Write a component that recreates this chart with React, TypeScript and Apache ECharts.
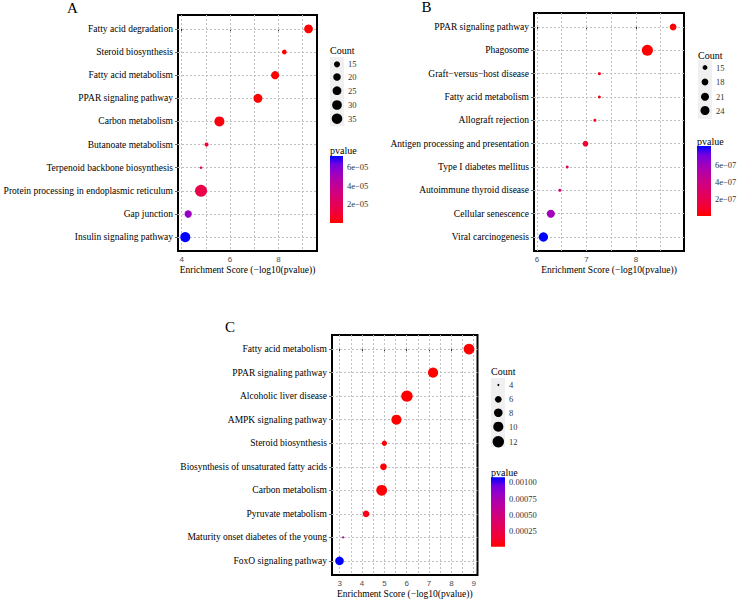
import React, { useEffect, useRef } from "react";
import * as echarts from "echarts";

// ---------- DATA ----------
const A_terms = [
  "Fatty acid degradation",
  "Steroid biosynthesis",
  "Fatty acid metabolism",
  "PPAR signaling pathway",
  "Carbon metabolism",
  "Butanoate metabolism",
  "Terpenoid backbone biosynthesis",
  "Protein processing in endoplasmic reticulum",
  "Gap junction",
  "Insulin signaling pathway",
];
const A_score = [9.24, 8.24, 7.86, 7.15, 5.56, 5.03, 4.8, 4.8, 4.27, 4.15];
const A_count = [25, 12, 22, 26, 32, 11, 10, 45, 19, 32];
const A_pvalue = [5.8e-10, 5.8e-9, 1.4e-8, 7.1e-8, 2.8e-6, 9.3e-6, 1.6e-5, 1.6e-5, 5.4e-5, 7.2e-5];
const A_xLabels = [4, 6, 8];
const A_xGrid = [4, 5, 6, 7, 8, 9];
const A_countBreaks = [15, 20, 25, 30, 35];
const A_pBreaks = [6e-5, 4e-5, 2e-5];
const A_pBreakLabels = ["6e\u221205", "4e\u221205", "2e\u221205"];

const B_terms = [
  "PPAR signaling pathway",
  "Phagosome",
  "Graft\u2212versus\u2212host disease",
  "Fatty acid metabolism",
  "Allograft rejection",
  "Antigen processing and presentation",
  "Type I diabetes mellitus",
  "Autoimmune thyroid disease",
  "Cellular senescence",
  "Viral carcinogenesis",
];
const B_score = [8.75, 8.23, 7.26, 7.26, 7.17, 6.98, 6.61, 6.46, 6.28, 6.13];
const B_count = [18, 32, 14, 14, 14, 16, 14, 14, 21, 25];
const B_pvalue = [1.8e-9, 5.9e-9, 5.5e-8, 5.5e-8, 6.8e-8, 1.05e-7, 2.45e-7, 3.5e-7, 5.8e-7, 8.2e-7];
const B_xLabels = [6, 7, 8];
const B_xGrid = [6, 6.5, 7, 7.5, 8, 8.5];
const B_countBreaks = [15, 18, 21, 24];
const B_pBreaks = [6e-7, 4e-7, 2e-7];
const B_pBreakLabels = ["6e\u221207", "4e\u221207", "2e\u221207"];

const C_terms = [
  "Fatty acid metabolism",
  "PPAR signaling pathway",
  "Alcoholic liver disease",
  "AMPK signaling pathway",
  "Steroid biosynthesis",
  "Biosynthesis of unsaturated fatty acids",
  "Carbon metabolism",
  "Pyruvate metabolism",
  "Maturity onset diabetes of the young",
  "FoxO signaling pathway",
];
const C_score = [8.79, 7.18, 6.01, 5.54, 5.0, 4.96, 4.88, 4.18, 3.15, 2.99];
const C_count = [11, 10, 12, 10, 5, 6, 11, 6, 4, 8];
const C_pvalue = [1.6e-9, 6.6e-8, 9.8e-7, 2.9e-6, 1.0e-5, 1.1e-5, 1.3e-5, 6.6e-5, 7.1e-4, 1.08e-3];
const C_xLabels = [3, 4, 5, 6, 7, 8, 9];
const C_xGrid = [3, 3.5, 4, 4.5, 5, 5.5, 6, 6.5, 7, 7.5, 8, 8.5, 9];
const C_countBreaks = [4, 6, 8, 10, 12];
const C_pBreaks = [0.001, 0.00075, 0.0005, 0.00025];
const C_pBreakLabels = ["0.00100", "0.00075", "0.00050", "0.00025"];

const X_NAME = "Enrichment Score (\u2212log10(pvalue))";

// ---------- STYLE ----------
const SERIF = "'Liberation Serif', 'Times New Roman', serif";
const SANS = "'Liberation Sans', Arial, sans-serif";
const STOPS = ["#FF0000", "#F40031", "#E80050", "#DA006C", "#CA0089", "#B500A5", "#9A00C3", "#7300E0", "#0000FF"];

type Panel = {
  letter: string;
  letterPos: [number, number];
  terms: string[];
  score: number[];
  count: number[];
  pvalue: number[];
  xLabels: number[];
  xGrid: number[];
  xMin: number;
  xMax: number;
  grid: { left: number; top: number; width: number; height: number };
  size: (c: number) => number;
  countBreaks: number[];
  countTitle: [number, number];
  countRect: [number, number, number, number];
  countDotX: number;
  countDotY: number[];
  countLabelX: number;
  pBreaks: number[];
  pBreakLabels: string[];
  pTitle: [number, number];
  pBar: [number, number, number, number];
  pLabelX: number;
};

const panels: Panel[] = [
  {
    letter: "A",
    letterPos: [67, 8],
    terms: A_terms,
    score: A_score,
    count: A_count,
    pvalue: A_pvalue,
    xLabels: A_xLabels,
    xGrid: A_xGrid,
    xMin: 3.85,
    xMax: 9.59,
    grid: { left: 178, top: 15, width: 139, height: 236 },
    size: (c) => 2.5 + 1.61 * Math.sqrt(Math.max(c - 10, 0)),
    countBreaks: A_countBreaks,
    countTitle: [330, 50],
    countRect: [330, 57, 14, 69],
    countDotX: 337,
    countDotY: [64.3, 77, 90.7, 105, 118.7],
    countLabelX: 348,
    pBreaks: A_pBreaks,
    pBreakLabels: A_pBreakLabels,
    pTitle: [330, 150],
    pBar: [330, 156, 13, 67],
    pLabelX: 347,
  },
  {
    letter: "B",
    letterPos: [421.5, 7],
    terms: B_terms,
    score: B_score,
    count: B_count,
    pvalue: B_pvalue,
    xLabels: B_xLabels,
    xGrid: B_xGrid,
    xMin: 5.94,
    xMax: 8.97,
    grid: { left: 534, top: 13, width: 150, height: 238 },
    size: (c) => 3 + 1.9 * Math.sqrt(Math.max(c - 14, 0)),
    countBreaks: B_countBreaks,
    countTitle: [698, 55],
    countRect: [698, 60, 14, 59],
    countDotX: 705,
    countDotY: [67.5, 82, 96.7, 110.5],
    countLabelX: 716,
    pBreaks: B_pBreaks,
    pBreakLabels: B_pBreakLabels,
    pTitle: [697, 141.5],
    pBar: [697, 146, 14, 70],
    pLabelX: 715,
  },
  {
    letter: "C",
    letterPos: [225, 327],
    terms: C_terms,
    score: C_score,
    count: C_count,
    pvalue: C_pvalue,
    xLabels: C_xLabels,
    xGrid: C_xGrid,
    xMin: 2.655,
    xMax: 9.17,
    grid: { left: 332, top: 335, width: 145.5, height: 240 },
    size: (c) => 2 + 3.32 * Math.sqrt(Math.max(c - 4, 0)),
    countBreaks: C_countBreaks,
    countTitle: [491, 371],
    countRect: [491, 378, 14, 69],
    countDotX: 498.3,
    countDotY: [385, 399.3, 412.7, 426.7, 441.7],
    countLabelX: 509,
    pBreaks: C_pBreaks,
    pBreakLabels: C_pBreakLabels,
    pTitle: [491, 472.5],
    pBar: [491, 477.3, 14, 69.4],
    pLabelX: 509,
  },
];

function buildOption() {
  const grids: any[] = [];
  const xAxes: any[] = [];
  const yAxes: any[] = [];
  const series: any[] = [];
  const visualMaps: any[] = [];
  const graphics: any[] = [];

  panels.forEach((p, k) => {
    const n = p.terms.length;
    const idx = p.terms.map((_, i) => i);
    grids.push({
      ...p.grid,
      show: true,
      borderColor: "#000",
      borderWidth: 2,
      backgroundColor: "#fff",
      containLabel: false,
    });
    xAxes.push({
      type: "value",
      gridIndex: k,
      min: p.xMin,
      max: p.xMax,
      splitLine: { show: false },
      axisLine: { show: false },
      axisTick: { show: true, customValues: p.xLabels, length: 3, lineStyle: { color: "#333", width: 1 } },
      axisLabel: {
        customValues: p.xLabels,
        fontFamily: SANS,
        fontSize: 8,
        color: "#4D4D4D",
        margin: 4,
        formatter: (v: number) => String(v),
      },
      name: X_NAME,
      nameLocation: "middle",
      nameGap: 14,
      nameTextStyle: { fontFamily: SERIF, fontSize: 9.5, color: "#000" },
    });
    yAxes.push({
      type: "value",
      gridIndex: k,
      min: -0.6,
      max: n - 1 + 0.6,
      inverse: true,
      splitLine: { show: false },
      axisLine: { show: false },
      axisTick: { show: true, customValues: idx, length: 3, lineStyle: { color: "#666", width: 1 } },
      axisLabel: {
        customValues: idx,
        fontFamily: SERIF,
        fontSize: 9.5,
        color: "#000",
        margin: 5,
        formatter: (v: number) => p.terms[Math.round(v)] ?? "",
      },
    });
    // grid lines
    series.push({
      type: "scatter",
      xAxisIndex: k,
      yAxisIndex: k,
      data: [],
      z: 1,
      silent: true,
      markLine: {
        z: 1,
        silent: true,
        symbol: ["none", "none"],
        label: { show: false },
        lineStyle: { type: [2, 2], color: "#BFBFBF", width: 1 },
        data: [...p.xGrid.map((v) => ({ xAxis: v })), ...idx.map((v) => ({ yAxis: v }))],
      },
    });
    // points
    series.push({
      type: "scatter",
      xAxisIndex: k,
      yAxisIndex: k,
      z: 6,
      data: p.terms.map((t, i) => [p.score[i], i, p.count[i], p.pvalue[i], t]),
      symbolSize: (val: any) => p.size(val[2]),
      itemStyle: { opacity: 1 },
    });
    const pMin = Math.min(...p.pvalue);
    const pMax = Math.max(...p.pvalue);
    visualMaps.push({
      type: "continuous",
      show: false,
      seriesIndex: 2 * k + 1,
      dimension: 3,
      min: pMin,
      max: pMax,
      inRange: { color: STOPS },
    });

    // panel letter
    graphics.push({
      type: "text",
      x: p.letterPos[0],
      y: p.letterPos[1],
      style: { text: p.letter, font: `15px ${SERIF}`, fill: "#000", align: "left", verticalAlign: "middle" },
    });
    // count legend
    graphics.push({
      type: "text",
      x: p.countTitle[0],
      y: p.countTitle[1],
      style: { text: "Count", font: `10px ${SERIF}`, fill: "#000", align: "left", verticalAlign: "middle" },
    });
    graphics.push({
      type: "rect",
      shape: { x: p.countRect[0], y: p.countRect[1], width: p.countRect[2], height: p.countRect[3] },
      style: { fill: "#F0F0F0" },
    });
    p.countBreaks.forEach((c, j) => {
      graphics.push({
        type: "circle",
        shape: { cx: p.countDotX, cy: p.countDotY[j], r: p.size(c) / 2 },
        style: { fill: "#000" },
      });
      graphics.push({
        type: "text",
        x: p.countLabelX,
        y: p.countDotY[j],
        style: { text: String(c), font: `8.5px ${SERIF}`, fill: "#333", align: "left", verticalAlign: "middle" },
      });
    });
    // pvalue legend
    graphics.push({
      type: "text",
      x: p.pTitle[0],
      y: p.pTitle[1],
      style: { text: "pvalue", font: `10px ${SERIF}`, fill: "#000", align: "left", verticalAlign: "middle" },
    });
    const [bx, by, bw, bh] = p.pBar;
    graphics.push({
      type: "rect",
      shape: { x: bx, y: by, width: bw, height: bh },
      style: {
        fill: new echarts.graphic.LinearGradient(
          0,
          1,
          0,
          0,
          STOPS.map((c, i) => ({ offset: i / (STOPS.length - 1), color: c }))
        ),
      },
    });
    p.pBreaks.forEach((v, j) => {
      const y = by + bh - ((v - pMin) / (pMax - pMin)) * bh;
      graphics.push({
        type: "text",
        x: p.pLabelX,
        y,
        style: { text: p.pBreakLabels[j], font: `8.5px ${SERIF}`, fill: "#333", align: "left", verticalAlign: "middle" },
      });
    });
  });

  return {
    animation: false,
    backgroundColor: "#fff",
    grid: grids,
    xAxis: xAxes,
    yAxis: yAxes,
    visualMap: visualMaps,
    series,
    graphic: graphics,
  };
}

export default function App() {
  const ref = useRef<HTMLDivElement>(null);
  useEffect(() => {
    if (!ref.current) return;
    const chart = echarts.init(ref.current, undefined, { renderer: "svg" });
    chart.setOption(buildOption() as any);
    return () => chart.dispose();
  }, []);
  return (
    <div
      ref={ref}
      style={{ position: "absolute", left: 0, top: 0, width: 737, height: 601, background: "#fff" }}
    />
  );
}
